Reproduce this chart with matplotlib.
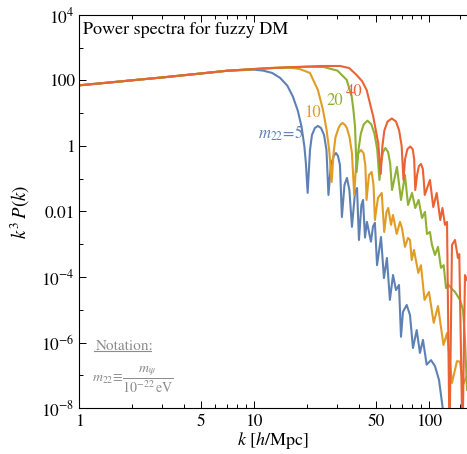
import matplotlib.pyplot as plt
from matplotlib.ticker import FixedLocator, FixedFormatter, NullFormatter

plt.rcParams['font.family'] = 'STIXGeneral'
plt.rcParams['mathtext.fontset'] = 'stix'

#%% data: k [h/Mpc] and k^3 P(k)

# low-k part shared by all four spectra
k_low = [1, 1.5, 2, 3, 5, 7]
p_low = [71, 87, 101, 124, 164, 198]

# m22 = 5
k_5 = [10, 11.3, 12.7, 14.1, 15.5, 16.7, 17.8, 18.7, 19.4, 19.8,
       20.27, 20.9, 21.45, 22.3, 23.2, 24.15, 25.15, 25.96, 26.65,
       27.5, 28.6, 29.4, 30.2, 31.0, 31.8,
       32.9, 34.0, 35.1, 36.3, 37.8, 38.8, 39.8, 41.1, 42.0,
       43.1, 44.2, 46.6, 47.9, 49.1, 50.5, 53.2, 55.3, 57.5, 59.8,
       62.3, 64.8, 67.4, 69.2, 71.0, 74.6, 77.9, 81.0, 85.1, 88.8,
       92.4, 97.0, 102.7, 108.2, 114.1, 120.2]
p_5 = [215, 200, 170, 120, 70, 32, 12, 3.9, 1.0, 0.3,
       0.037, 0.75, 2.17, 3.55, 4.1, 3.55, 2.17, 0.75, 0.032,
       0.26, 0.5, 0.61, 0.5, 0.26, 0.0068,
       0.065, 0.106, 0.045, 0.0034, 0.039, 0.052, 0.00135, 0.0158, 0.0225,
       0.0016, 0.0048, 0.0012, 0.0035, 0.0045, 2.3e-4, 1.67e-3, 9.3e-5, 3.8e-4, 2.0e-5,
       1.15e-4, 4.0e-5, 5.7e-5, 1.5e-6, 8.6e-6, 1.4e-5, 6.9e-6, 6.8e-7, 2.4e-6, 4.8e-7,
       1.2e-6, 2.1e-7, 2.9e-7, 1.9e-7, 7.2e-8, 8.7e-9]

# m22 = 10
k_10 = [10, 13, 16, 18.3, 20.9, 23.2, 24.8, 26.0, 26.9, 27.8,
        28.5, 29.2, 30.4, 31.2, 32.1, 33.0, 34.0, 35.2, 36.3, 37.4,
        38.3, 39.4, 40.9, 42.3, 43.3, 44.0,
        45.4, 47.05, 48.2, 49.1, 51.1, 53.7, 55.5, 57.2, 58.5, 60.7,
        62.3, 65.4, 68.3, 70.1, 72.9, 75.9, 77.9, 79.7, 82.1, 86.9,
        90.0, 94.3, 100, 106.4, 112.6, 121.0, 126.8, 135.3, 144.5, 150.4,
        156.5, 164.9]
p_10 = [222, 245, 245, 224, 169, 51, 12.6, 3.1, 0.755, 0.08,
        0.6, 1.8, 3.5, 4.5, 5.05, 4.5, 3.5, 1.8, 0.6, 0.032,
        0.25, 0.6, 0.755, 0.6, 0.25, 0.0225,
        0.13, 0.161, 0.0646, 0.0055, 0.0259, 0.0368, 0.00237, 0.0097, 0.0128, 0.0039,
        0.0078, 0.00206, 0.0048, 0.00314, 8.3e-4, 0.00156, 0.00135, 3.3e-4, 6.7e-4, 1.33e-4,
        2.3e-4, 2.0e-5, 3.5e-5, 4.0e-6, 1.3e-5, 8.4e-7, 1.95e-6, 5.8e-8, 2.7e-7, 2.6e-7,
        5.1e-8, 1.0e-7]

# m22 = 20
k_20 = [10, 15, 20, 25, 30.0, 33.9, 36.2, 37.0, 37.8, 38.6,
        39.6, 40.8, 42.4, 44.5, 46.8, 48.8, 50.6, 52.1,
        53.2, 54.6, 56.4, 58.4, 60.0, 61.5,
        65.6, 69.2, 72.9, 75.9, 80.0, 83.5, 87.3, 91.2, 94.9, 97.4,
        101.3, 104.0, 108.2, 112.6, 117.1, 121.3, 125.1, 128.4, 135.3, 140.8,
        150.4, 156.5, 160.6, 164.9]
p_20 = [224, 250, 262, 258, 200, 104, 32, 12.6, 3.9, 0.16,
        0.8, 2.4, 4.6, 5.93, 4.6, 2.4, 0.8, 0.0918,
        0.3, 0.65, 0.87, 0.65, 0.3, 0.0454,
        0.229, 0.0225, 0.13, 0.0158, 0.0368, 0.0128, 0.0225, 0.0063, 0.0097, 0.00206,
        0.00237, 9.5e-4, 4.7e-4, 8.3e-4, 1.9e-4, 2.3e-4, 4.6e-5, 6.0e-5, 4.3e-5, 3.5e-5,
        2.0e-5, 9.9e-6, 1.2e-6, 3.6e-8]

# m22 = 40
k_40 = [10, 15, 24, 31, 35, 38.6, 41.5, 44.06, 48.05, 51.3, 53.0,
        54.2, 55.6, 58.0, 61.3, 64.8, 67.5, 69.8, 71.5,
        73.0, 75.3, 78.1, 80.7, 82.3, 83.5,
        85.5, 87.5, 90.0, 92.2, 93.5, 94.6,
        101.3, 105.8, 110.7, 116.0, 119.4, 123.4, 126.8, 131.0, 135.3, 140.8,
        146.4, 149.0, 155.4, 160.6, 164.9]
p_40 = [224, 250, 277, 277, 240, 147, 95, 51, 7.85, 1.21, 0.14,
        1.0, 3.0, 5.6, 6.92, 5.6, 3.0, 1.0, 0.0918,
        0.4, 0.8, 0.967, 0.8, 0.4, 0.0454,
        0.13, 0.24, 0.283, 0.2, 0.08, 0.032,
        0.0918, 0.0137, 0.0368, 0.0055, 0.0128, 0.0039, 0.0048, 1e-9, 9.5e-4, 0.00135,
        3.8e-4, 5e-4, 1e-9, 1.15e-4, 8.1e-5]

masses = ['5', '10', '20', '40']
colors = ['#5E81B5', '#E19C24', '#8FB032', '#EB6235']
curves = [(k_5, p_5), (k_10, p_10), (k_20, p_20), (k_40, p_40)]

#%% plot
fig = plt.figure(figsize=(4.67, 4.54), dpi=100)
ax = fig.add_axes([0.169, 0.1013, 0.831, 0.8657])

for (k, p), c in zip(curves, colors):
    ax.loglog(k_low + k, p_low + p, color=c, lw=1.5, solid_joinstyle='round')

ax.set_xlim(1, 164.9)
ax.set_ylim(1e-8, 1e4)

xmaj = [1, 5, 10, 50, 100]
xmin = [2, 3, 4, 6, 7, 8, 9, 20, 30, 40, 60, 70, 80, 90, 150]
ax.xaxis.set_major_locator(FixedLocator(xmaj))
ax.xaxis.set_major_formatter(FixedFormatter([str(v) for v in xmaj]))
ax.xaxis.set_minor_locator(FixedLocator(xmin))
ax.xaxis.set_minor_formatter(NullFormatter())

ymaj = [1e4, 1e2, 1, 1e-2, 1e-4, 1e-6, 1e-8]
ylab = [r'$10^{4}$', '100', '1', '0.01', r'$10^{-4}$', r'$10^{-6}$', r'$10^{-8}$']
ax.yaxis.set_major_locator(FixedLocator(ymaj))
ax.yaxis.set_major_formatter(FixedFormatter(ylab))
ax.yaxis.set_minor_locator(FixedLocator([1e3, 10, 0.1, 1e-3, 1e-5, 1e-7]))
ax.yaxis.set_minor_formatter(NullFormatter())

ax.tick_params(which='both', direction='in', top=True, right=False, labelsize=12.5, width=0.7)
ax.tick_params(which='major', length=5)
ax.tick_params(which='minor', length=3)
ax.tick_params(axis='y', pad=3)
ax.tick_params(axis='x', pad=4)
ax.spines['right'].set_visible(False)
for s in ['left', 'bottom', 'top']:
    ax.spines[s].set_linewidth(0.8)

ax.set_xlabel(r'$k$ [$h$/Mpc]', fontsize=13)
ax.set_ylabel(r'$k^3\,P(k)$', fontsize=13.5)
ax.xaxis.set_label_coords(0.5, -0.057)
ax.yaxis.set_label_coords(-0.12, 0.5)

ax.text(0.01, 0.962, 'Power spectra for fuzzy DM', transform=ax.transAxes,
        fontsize=13, ha='left', va='center')

# curve labels
ax.text(14.3, 2.5, r'$m_{22}\!=\!5$', color=colors[0], fontsize=12, ha='center', va='center')
ax.text(21.7, 10.2, masses[1], color=colors[1], fontsize=12, ha='center', va='center')
ax.text(29.0, 23.7, masses[2], color=colors[2], fontsize=12, ha='center', va='center')
ax.text(37.5, 44.6, masses[3], color=colors[3], fontsize=12, ha='center', va='center')

# notation box
gray = '#8c8c8c'
ax.text(0.119, 0.158, 'Notation:', transform=ax.transAxes, color=gray,
        fontsize=11, ha='center', va='center')
ax.plot([0.039, 0.186], [0.145, 0.145], transform=ax.transAxes, color=gray, lw=0.8)
ax.text(0.139, 0.071, r'$m_{22}\!\equiv\!\dfrac{m_\psi}{10^{-22}\,\mathrm{eV}}$',
        transform=ax.transAxes, color=gray, fontsize=10, ha='center', va='center')

plt.savefig('out.png', dpi=100)
